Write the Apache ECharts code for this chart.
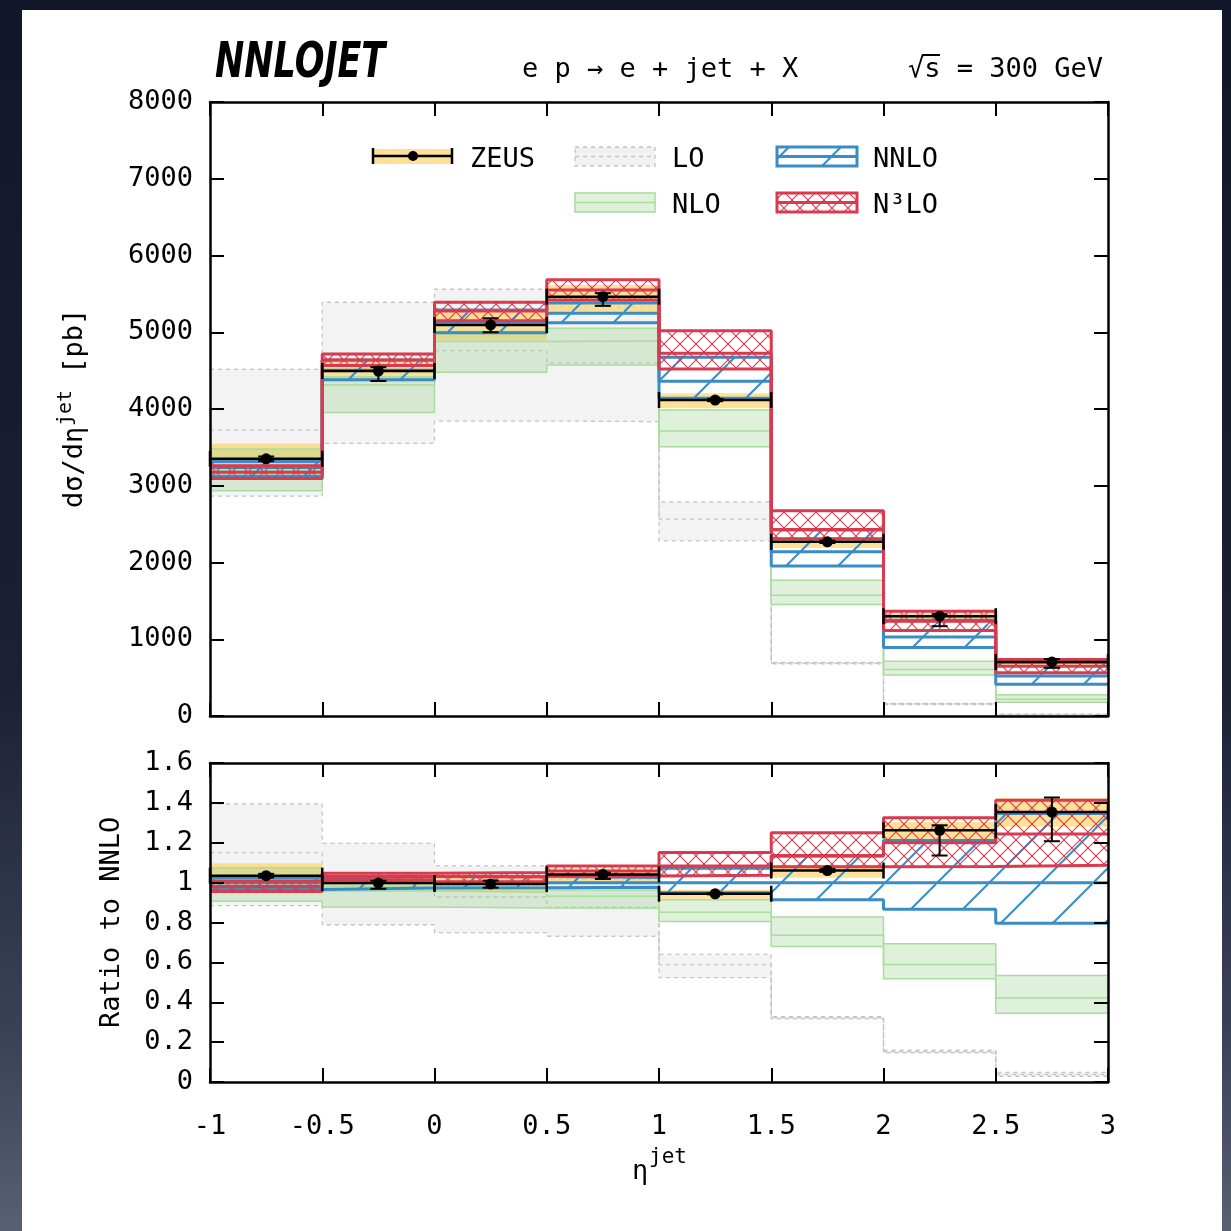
<!DOCTYPE html>
<html><head><meta charset="utf-8">
<script src="https://cdn.jsdelivr.net/npm/echarts@6/dist/echarts.min.js"></script>
<style>
html,body{margin:0;padding:0;width:1231px;height:1231px;overflow:hidden;background:linear-gradient(180deg,#12162a 0%,#1b2035 55%,#3c4358 85%,#596074 100%);}
#card{position:absolute;left:22px;top:10px;width:1200px;height:1221px;background:#ffffff;}
#chart{position:absolute;left:0;top:0;width:1231px;height:1231px;}
</style></head><body><div id="card"></div><div id="chart"></div>
<script>
// ---- data (eta^jet bins, dsigma/deta in pb) ----
const etaEdges = [-1, -0.5, 0, 0.5, 1, 1.5, 2, 2.5, 3];
const zeusMid   = [3351, 4495, 5095, 5464, 4117, 2269, 1300, 704];
const zeusErrUp = [30, 50, 87, 45, 15, 15, 26, 38];
const zeusErrDn = [30, 130, 95, 120, 15, 15, 130, 76];
const zeusSysLo = [3150, 4355, 4890, 5268, 4009, 2190, 1248, 666];
const zeusSysHi = [3552, 4648, 5300, 5616, 4204, 2330, 1343, 740];
const loLo  = [2865, 3552, 3843, 3836, 2282, 680, 150, 15];
const loMid = [3725, 4480, 4760, 4600, 2565, 690, 157, 20];
const loHi  = [4517, 5391, 5560, 5330, 2790, 700, 165, 25];
const nloLo  = [2934, 3956, 4480, 4573, 3508, 1453, 534, 179];
const nloMid = [3200, 4312, 4880, 4886, 3713, 1574, 607, 219];
const nloHi  = [3478, 4420, 5010, 5052, 3987, 1770, 714, 278];
const nnloLo  = [3125, 4382, 4995, 5125, 4140, 1956, 893, 414];
const nnloMid = [3238, 4504, 5130, 5247, 4360, 2139, 1030, 520];
const nnloHi  = [3315, 4640, 5290, 5380, 4674, 2422, 1248, 700];
const n3loLo  = [3095, 4567, 5150, 5421, 4521, 2310, 1113, 565];
const n3loMid = [3175, 4640, 5277, 5550, 4725, 2430, 1236, 647];
const n3loHi  = [3260, 4716, 5391, 5683, 5020, 2673, 1365, 735];
const topTicks = {min: 0, max: 8000, interval: 1000};
const ratioTicks = {min: 0, max: 1.6, interval: 0.2};
const xTicks = {min: -1, max: 3, interval: 0.5};

// ---- styling ----
const FONT = "'DejaVu Sans Mono', 'Liberation Mono', monospace";
const RED = '#d93a4e', BLUE = '#3a8cc4', GREEN_L = '#a9dc9e', GREEN_F = 'rgba(150,210,135,0.30)';
const GREY_L = '#c4c4c4', GREY_F = 'rgba(200,200,200,0.22)', YELLOW_F = 'rgba(253,214,110,0.72)';

function makeHatch(size, color, lw, cross) {
  const c = document.createElement('canvas'); c.width = size; c.height = size;
  const g = c.getContext('2d'); g.strokeStyle = color; g.lineWidth = lw;
  g.beginPath();
  for (const o of [-size, 0, size]) { g.moveTo(o, size); g.lineTo(o + size, 0); }
  if (cross) for (const o of [-size, 0, size]) { g.moveTo(o, 0); g.lineTo(o + size, size); }
  g.stroke();
  return c;
}
const nnloPat = {image: makeHatch(52, BLUE, 2, false), repeat: 'repeat'};
const n3loPat = {image: makeHatch(16, RED, 1.1, true), repeat: 'repeat'};

const ratioOf = arr => arr.map((v, i) => v / nnloMid[i]);
const ident = arr => arr.slice();

function bandData(lo, hi) { return lo.map((v, i) => [etaEdges[i], etaEdges[i + 1], v, hi[i]]); }
function stepData(vals) {
  const pts = [];
  vals.forEach((v, i) => { pts.push([etaEdges[i], v]); pts.push([etaEdges[i + 1], v]); });
  return pts;
}
function rectSeries(ax, data, fill, z) {
  return {type: 'custom', xAxisIndex: ax, yAxisIndex: ax, z: z, clip: true, silent: true,
    encode: {x: [0, 1], y: [2, 3]}, data: data,
    renderItem: (p, api) => {
      const a = api.coord([api.value(0), api.value(3)]), b = api.coord([api.value(1), api.value(2)]);
      return {type: 'rect', shape: {x: a[0], y: a[1], width: b[0] - a[0], height: b[1] - a[1]},
        style: {fill: fill, stroke: null}};
    }};
}
function lineSeries(ax, vals, color, width, dash, z) {
  return {type: 'line', xAxisIndex: ax, yAxisIndex: ax, z: z, silent: true, symbol: 'none',
    data: stepData(vals), animation: false,
    lineStyle: {color: color, width: width, type: dash ? [4, 4] : 'solid'}};
}
function zeusSeries(ax, f, z) {
  const m = f(zeusMid), lo = f(zeusMid.map((v, i) => v - zeusErrDn[i])), hi = f(zeusMid.map((v, i) => v + zeusErrUp[i]));
  return {type: 'custom', xAxisIndex: ax, yAxisIndex: ax, z: z, silent: true,
    encode: {x: [0, 1], y: [2, 3, 4]},
    data: m.map((v, i) => [etaEdges[i], etaEdges[i + 1], v, lo[i], hi[i]]),
    renderItem: (p, api) => {
      const x0 = api.value(0), x1 = api.value(1), v = api.value(2), xc = (x0 + x1) / 2;
      const a = api.coord([x0, v]), b = api.coord([x1, v]), c = api.coord([xc, v]);
      const t = api.coord([xc, api.value(4)]), bt = api.coord([xc, api.value(3)]);
      const st = {stroke: '#000', lineWidth: 2.5}, st2 = {stroke: '#000', lineWidth: 2};
      const cap = 8, ecap = 8;
      return {type: 'group', children: [
        {type: 'line', shape: {x1: a[0], y1: a[1], x2: b[0], y2: b[1]}, style: st},
        {type: 'line', shape: {x1: a[0], y1: a[1] - cap, x2: a[0], y2: a[1] + cap}, style: st},
        {type: 'line', shape: {x1: b[0], y1: b[1] - cap, x2: b[0], y2: b[1] + cap}, style: st},
        {type: 'line', shape: {x1: t[0], y1: t[1], x2: bt[0], y2: bt[1]}, style: st2},
        {type: 'line', shape: {x1: t[0] - ecap, y1: t[1], x2: t[0] + ecap, y2: t[1]}, style: st2},
        {type: 'line', shape: {x1: bt[0] - ecap, y1: bt[1], x2: bt[0] + ecap, y2: bt[1]}, style: st2},
        {type: 'circle', shape: {cx: c[0], cy: c[1], r: 5.5}, style: {fill: '#000'}}
      ]};
    }};
}
function panelSeries(ax, f) {
  return [
    rectSeries(ax, bandData(f(loLo), f(loHi)), GREY_F, 1),
    lineSeries(ax, f(loLo), GREY_L, 1.3, true, 2),
    lineSeries(ax, f(loMid), GREY_L, 1.3, true, 2),
    lineSeries(ax, f(loHi), GREY_L, 1.3, true, 2),
    rectSeries(ax, bandData(f(zeusSysLo), f(zeusSysHi)), YELLOW_F, 3),
    rectSeries(ax, bandData(f(nloLo), f(nloHi)), GREEN_F, 4),
    lineSeries(ax, f(nloLo), GREEN_L, 1.5, false, 5),
    lineSeries(ax, f(nloMid), GREEN_L, 1.5, false, 5),
    lineSeries(ax, f(nloHi), GREEN_L, 1.5, false, 5),
    rectSeries(ax, bandData(f(nnloLo), f(nnloHi)), nnloPat, 6),
    lineSeries(ax, f(nnloLo), BLUE, 3, false, 7),
    lineSeries(ax, f(nnloMid), BLUE, 3, false, 7),
    lineSeries(ax, f(nnloHi), BLUE, 3, false, 7),
    rectSeries(ax, bandData(f(n3loLo), f(n3loHi)), n3loPat, 8),
    lineSeries(ax, f(n3loLo), RED, 3, false, 9),
    lineSeries(ax, f(n3loMid), RED, 3, false, 9),
    lineSeries(ax, f(n3loHi), RED, 3, false, 9),
    zeusSeries(ax, f, 10)
  ];
}

const axLine = {onZero: false, lineStyle: {color: '#000', width: 2.5}};
const axTick = {inside: true, length: 14, lineStyle: {color: '#000', width: 2}};
const lblStyle = {color: '#000', fontFamily: FONT, fontSize: 27, formatter: v => String(Math.round(v * 1000) / 1000)};
function xAx(grid, pos, show) {
  return {type: 'value', gridIndex: grid, position: pos, ...xTicks, z: 50,
    axisLine: axLine, axisTick: axTick, splitLine: {show: false},
    axisLabel: {show: show, margin: 31, ...lblStyle}};
}
function yAx(grid, pos, t, show) {
  return {type: 'value', gridIndex: grid, position: pos, ...t, z: 50,
    axisLine: axLine, axisTick: axTick, splitLine: {show: false},
    axisLabel: {show: show, margin: 17, padding: [10, 0, 0, 0], ...lblStyle}};
}

// legend / titles as graphics
function txt(x, y, s, size, extra) {
  return Object.assign({type: 'text', x: x, y: y, z: 100,
    style: {text: s, font: size + 'px ' + FONT, fill: '#000', textVerticalAlign: 'middle'}}, extra || {});
}
function legendBox(x, y, w, h, fill, stroke, lw, dash, mid) {
  return [
    {type: 'rect', z: 100, shape: {x: x, y: y, width: w, height: h}, style: {fill: fill, stroke: stroke, lineWidth: lw, lineDash: dash}},
    {type: 'line', z: 100, shape: {x1: x, y1: y + h / 2, x2: x + w, y2: y + h / 2}, style: {stroke: mid || stroke, lineWidth: lw, lineDash: dash}}
  ];
}
const graphics = [
  {type: 'text', x: 215, y: 64, z: 100, scaleX: 0.7,
    style: {text: 'NNLOJET', font: 'italic bold 50px "DejaVu Sans", sans-serif', fill: '#000', textVerticalAlign: 'middle'}},
  txt(522, 70, 'e p → e + jet + X', 27),
  txt(908, 70, '√s = 300 GeV', 27),
  {type: 'line', z: 100, shape: {x1: 922, y1: 55, x2: 940, y2: 55}, style: {stroke: '#000', lineWidth: 2}},
  // legend
  {type: 'rect', z: 100, shape: {x: 372, y: 149, width: 81, height: 15}, style: {fill: YELLOW_F}},
  {type: 'line', z: 100, shape: {x1: 372, y1: 156, x2: 453, y2: 156}, style: {stroke: '#000', lineWidth: 2.5}},
  {type: 'line', z: 100, shape: {x1: 373, y1: 148, x2: 373, y2: 164}, style: {stroke: '#000', lineWidth: 2.5}},
  {type: 'line', z: 100, shape: {x1: 452, y1: 148, x2: 452, y2: 164}, style: {stroke: '#000', lineWidth: 2.5}},
  {type: 'circle', z: 100, shape: {cx: 413, cy: 156, r: 5}, style: {fill: '#000'}},
  txt(470, 160, 'ZEUS', 27),
  ...legendBox(575, 147, 80, 19, 'rgba(200,200,200,0.25)', GREY_L, 1.3, [4, 4]),
  txt(672, 160, 'LO', 27),
  ...legendBox(575, 193, 80, 19, GREEN_F, GREEN_L, 1.5, null),
  txt(672, 206, 'NLO', 27),
  ...legendBox(777, 147, 80, 19, nnloPat, BLUE, 3, null),
  txt(873, 160, 'NNLO', 27),
  ...legendBox(777, 193, 80, 19, n3loPat, RED, 3, null),
  txt(873, 206, 'N³LO', 27),
  // axis titles
  {type: 'group', x: 75, y: 508, rotation: Math.PI / 2, z: 100, children: [
    txt(0, 0, 'dσ/dη', 27),
    txt(82, -9, 'jet', 20),
    txt(118, 0, ' [pb]', 27)
  ]},
  {type: 'group', x: 112, y: 1028, rotation: Math.PI / 2, z: 100, children: [
    txt(0, 0, 'Ratio to NNLO', 27)
  ]},
  txt(632, 1172, 'η', 27),
  txt(649, 1158, 'jet', 21)
];

const chart = echarts.init(document.getElementById('chart'), null, {renderer: 'canvas'});
chart.setOption({
  animation: false,
  backgroundColor: 'transparent',
  grid: [
    {left: 210, top: 102, width: 898, height: 614},
    {left: 210, top: 763, width: 898, height: 319}
  ],
  xAxis: [xAx(0, 'bottom', false), xAx(0, 'top', false), xAx(1, 'bottom', true), xAx(1, 'top', false)],
  yAxis: [yAx(0, 'left', topTicks, true), yAx(0, 'right', topTicks, false),
          yAx(1, 'left', ratioTicks, true), yAx(1, 'right', ratioTicks, false)],
  series: [...panelSeries(0, ident), ...panelSeries(2, ratioOf)],
  graphic: graphics
});
</script></body></html>
